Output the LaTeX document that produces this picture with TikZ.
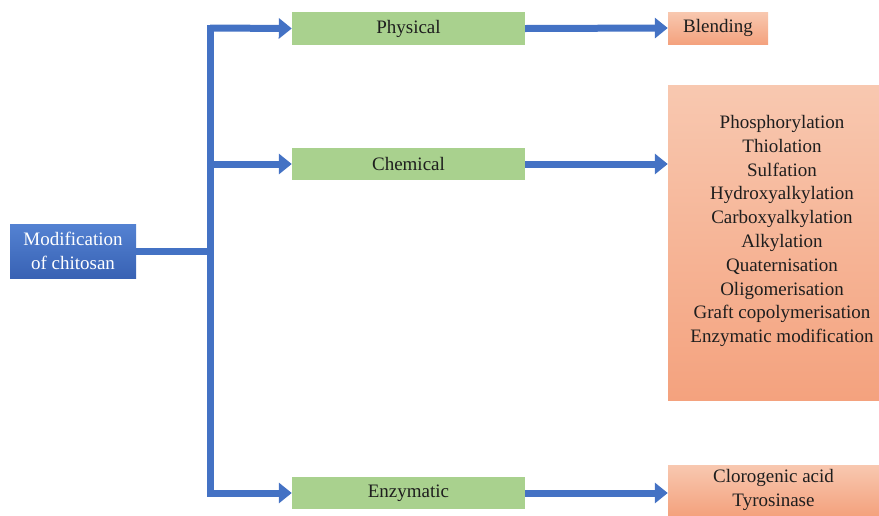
\documentclass[tikz,border=0pt]{standalone}
\usepackage{fontspec}
\setmainfont{Liberation Serif}
\newfontfamily\tnr{Liberation Serif}
\usetikzlibrary{arrows.meta,positioning}
\definecolor{lineblue}{RGB}{68,114,196}
\definecolor{boxblueT}{RGB}{84,130,210}
\definecolor{boxblueB}{RGB}{56,98,180}
\definecolor{greenfill}{RGB}{169,209,142}
\definecolor{orangeT}{RGB}{248,200,176}
\definecolor{orangeB}{RGB}{244,162,126}
\definecolor{txt}{RGB}{30,30,30}
\begin{document}
\begin{tikzpicture}[x=1pt,y=-1pt,
  every node/.style={font=\tnr\fontsize{19}{24}\selectfont, text=txt, inner sep=0pt},
  bluebox/.style={rectangle, top color=boxblueT, bottom color=boxblueB, text=white, align=center},
  greenbox/.style={rectangle, fill=greenfill, minimum width=233pt, minimum height=33pt},
  orangebox/.style={rectangle, top color=orangeT, bottom color=orangeB, align=center},
  conn/.style={draw=lineblue, line width=7pt},
  arr/.style={draw=lineblue, line width=7pt, -{Triangle[width=20pt,length=13pt]}}
]
\useasboundingbox (0,0) rectangle (879,515);
% left box
\node[bluebox, minimum width=126pt, minimum height=54pt] (mod) at (73,251) {Modification\\of chitosan};
% green boxes
\node[greenbox] (phys) at (408.5,28.5) {Physical};
\node[greenbox, minimum height=32pt] (chem) at (408.5,164) {Chemical};
\node[greenbox, minimum height=32pt] (enz) at (408.5,493) {Enzymatic};
% orange boxes
\node[orangebox, minimum width=100pt, minimum height=32pt] (blend) at (718,28) {Blending};
\node[orangebox, minimum width=211pt, minimum height=315pt] (chembox) at (773.5,242.5) {};
\node[align=center, font=\tnr\fontsize{19}{23.8}\selectfont] (chemlist) at (782,231)
  {Phosphorylation\\Thiolation\\Sulfation\\Hydroxyalkylation\\Carboxyalkylation\\Alkylation\\Quaternisation\\Oligomerisation\\Graft copolymerisation\\Enzymatic modification};
\node[orangebox, minimum width=211pt, minimum height=50pt] (enzbox) at (773.5,490) {Clorogenic acid\\Tyrosinase};
% junction coordinates
\coordinate (j) at (210,251);
\coordinate (jt) at (210,28);
\coordinate (jb) at (210,493);
% connectors
\draw[conn] (mod.east) -- (j);
\draw[conn, line cap=rect] (jt) -- (jb);
\draw[arr] (jt) -- (phys.west);
\draw[arr] (j |- chem.west) -- (chem.west);
\draw[arr] (jb) -- (enz.west);
\draw[arr] (phys.east) -- (blend.west);
\draw[arr] (chem.east) -- (chembox.west |- chem.east);
\draw[arr] (enz.east) -- (enzbox.west |- enz.east);
\end{tikzpicture}
\end{document}
